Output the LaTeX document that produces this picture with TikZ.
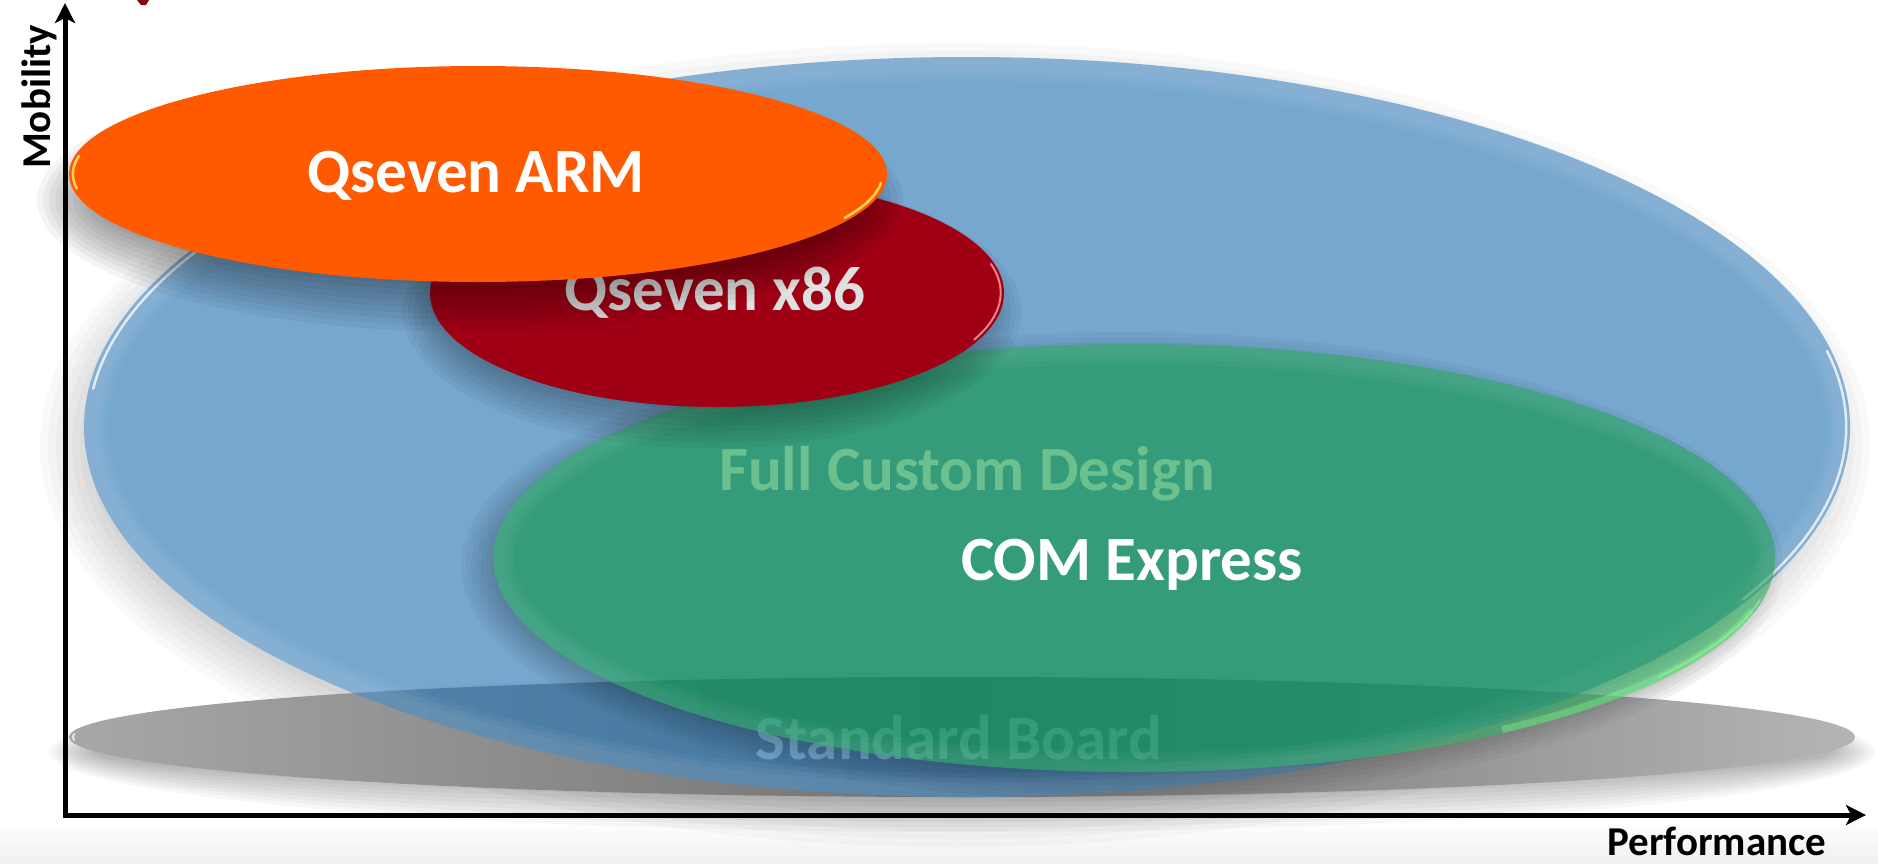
\documentclass[tikz,border=0pt]{standalone}
\usepackage{fontspec}
\setmainfont{Carlito}
\usetikzlibrary{arrows.meta}

\definecolor{orangeA}{RGB}{255,90,0}
\definecolor{redA}{RGB}{160,0,20}
\definecolor{blueA}{RGB}{45,120,182}
\definecolor{greenA}{RGB}{10,150,67}
\definecolor{grayL}{RGB}{168,168,168}
\definecolor{grayD}{RGB}{112,112,112}

% soft shadow: stacked translucent ellipses
% #1 centre, #2 x radius, #3 y radius, #4 spread, #5 opacity per layer
\newcommand\softblur[5]{%
  \foreach \k in {0,...,9}{%
    \fill[black,opacity=#5] #1 ellipse [x radius={#2-#4+\k*#4/5}, y radius={#3-#4+\k*#4/5}];}}

\begin{document}
\begin{tikzpicture}[x=1pt,y=-1pt,
  lbl/.style={font=\bfseries\fontsize{63}{70}\selectfont, text=white, inner sep=0pt, anchor=base},
  axlbl/.style={font=\bfseries\fontsize{41}{46}\selectfont, text=black, inner sep=0pt, anchor=base},
  axisline/.style={line width=5pt, -{Stealth[length=20pt,width=20pt,inset=5pt]}},
  gloss/.style={line cap=round, line width=2.5pt, opacity=0.75}]

\useasboundingbox (0,0) rectangle (1878,863);
\fill[white] (0,0) rectangle (1878,863);
\shade[top color=white, bottom color=black!6] (0,820) rectangle (1878,863);

% shadow of the large blue area (outside it only)
\begin{scope}[even odd rule]
  \clip (0,0) rectangle (1878,863) (967,427) ellipse [x radius=883, y radius=370];
  \softblur{(955,445)}{883}{370}{40}{0.025}
\end{scope}

% grey base ellipse
\softblur{(962,752)}{893}{60}{25}{0.03}
\shade[left color=grayL, right color=grayL!85!white, middle color=grayD] (962,737) ellipse [x radius=893, y radius=60];
\draw[white, gloss, line width=2pt] (74,734) arc[start angle=183, end angle=177, x radius=889, y radius=56];
\node[lbl] (std) at (959,759) {Standard Board};

% blue: full custom design
\fill[blueA, opacity=0.65] (967,427) ellipse [x radius=883, y radius=370];
\begin{scope}
  \clip (967,427) ellipse [x radius=883, y radius=370];
  \foreach \w in {48,38,28} \draw[white, opacity=0.045, line width=\w pt] (967,427) ellipse [x radius=883, y radius=370];
\end{scope}
\draw[white, gloss] (222,233) arc[start angle=212, end angle=186, x radius=879, y radius=366];
\draw[white, gloss] (1827,351) arc[start angle=-12, end angle=28, x radius=879, y radius=366];
\node[lbl] (fcd) at (967,490) {Full Custom Design};

% green: COM Express
\begin{scope}[even odd rule]
  \clip (0,0) rectangle (1878,863) (1134,558) ellipse [x radius=641, y radius=214];
  \softblur{(1122,566)}{641}{214}{25}{0.03}
\end{scope}
\fill[greenA, opacity=0.6] (1134,558) ellipse [x radius=641, y radius=214];
\begin{scope}
  \clip (1134,558) ellipse [x radius=641, y radius=214];
  \foreach \w in {40,30,20} \draw[white, opacity=0.03, line width=\w pt] (1134,558) ellipse [x radius=641, y radius=214];
  \draw[white!55!green, opacity=0.35, line width=12pt] (1754,612) arc[start angle=15, end angle=55, x radius=641, y radius=214];
\end{scope}
\draw[white!60!green, line cap=round, line width=2pt, opacity=0.5] (1760,600) arc[start angle=12, end angle=35, x radius=637, y radius=210];
\node[lbl] (com) at (1132,580) {COM Express};

% red: Qseven x86
\softblur{(712,312)}{287}{114}{28}{0.04}
\fill[redA] (717,293) ellipse [x radius=287, y radius=114];
\draw[white!70!red, gloss, line width=2pt] (991,264) arc[start angle=-15, end angle=25, x radius=284, y radius=111];
\node[lbl, text=white!88!black] (x86) at (715,310) {Qseven x86};

% orange: Qseven ARM
\softblur{(470,200)}{409}{108}{30}{0.045}
\fill[orangeA] (478,174) ellipse [x radius=409, y radius=108];
\draw[white!50!yellow, gloss] (79,156) arc[start angle=190, end angle=172, x radius=405, y radius=104];
\draw[white!50!yellow, gloss] (881,183) arc[start angle=5, end angle=25, x radius=405, y radius=104];
\node[lbl] (arm) at (476,192) {Qseven ARM};

% fragment at the top edge
\fill[redA!85!black] (137,0) -- (149,0) -- (146,5) -- (141,5) -- cycle;

% axes
\coordinate (ybase) at (65,817.5);
\coordinate (ytop) at (65,3);
\coordinate (xbase) at (62.5,815);
\coordinate (xend) at (1866,815);
\draw[axisline] (ybase) -- (ytop);
\draw[axisline] (xbase) -- (xend);
\node[axlbl, rotate=90] (mob) at (50,97) {Mobility};
\node[axlbl] (perf) at (1717,855) {Performance};
\end{tikzpicture}
\end{document}
